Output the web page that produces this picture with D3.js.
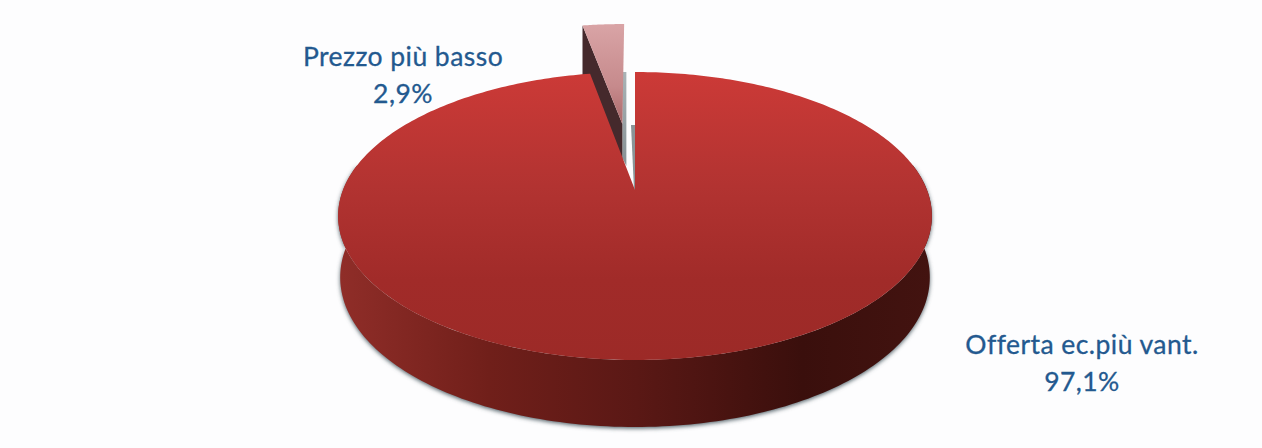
<!DOCTYPE html>
<html>
<head>
<meta charset="utf-8">
<style>
  html, body { margin: 0; padding: 0; background: #fdfdfe; }
  svg { display: block; }
  text { font-family: Lato, "Open Sans", sans-serif; fill: #23598f; stroke: #23598f; stroke-width: 0.3px; text-anchor: middle; letter-spacing: 0.45px; }
</style>
<script src="https://cdn.jsdelivr.net/npm/d3@7/dist/d3.min.js"></script>
</head>
<body>
<svg id="chart" width="1262" height="448"></svg>
<script>
// Award criteria shares
const categories = ["Offerta ec.più vant.", "Prezzo più basso"];
const shares = [97.1, 2.9];
const shareLabels = ["97,1%", "2,9%"];

const width = 1262, height = 448;
const svg = d3.select("#chart").attr("viewBox", [0, 0, width, height]);

// Perspective camera for the disc: hub position, radii and foreshortening
const hubX = 635, hubY = 190, spanX = 292, spanY = 139.3, persp = 0.1806;
const explode = 0.52, rimInset = 0.993;
const TAU = Math.PI * 2;

// Project a point of the unit disc (u to the right, v away from the viewer)
function project(u, v) {
  const w = 1 + persp * v;
  return [hubX + spanX * u / w, hubY - spanY * v / w];
}
const onRim = a => [Math.sin(a), Math.cos(a)];
const rimPoint = a => project(...onRim(a));

// Wall thickness grows towards the viewer
function lowerPoint(a) {
  const [u, v] = onRim(a);
  const [x, y] = project(u, v);
  return [hubX + (x - hubX) * rimInset, y + 60 - 7 * v];
}

const sweep = (a0, a1, n = 180) => d3.range(n + 1).map(i => a0 + (a1 - a0) * i / n);
const closed = d3.line().curve(d3.curveLinearClosed);

const arcs = d3.pie().sort(null).value(d => d)(shares);
const main = arcs[0], wedge = arcs[1];

// Paint definitions
const defs = svg.append("defs");
function gradient(id, horizontal, stops, range) {
  const g = defs.append("linearGradient").attr("id", id).attr("gradientUnits", "userSpaceOnUse");
  if (horizontal) g.attr("x1", range[0]).attr("x2", range[1]).attr("y1", 0).attr("y2", 0);
  else g.attr("y1", range[0]).attr("y2", range[1]).attr("x1", 0).attr("x2", 0);
  stops.forEach(([o, c]) => g.append("stop").attr("offset", o).attr("stop-color", c));
}
gradient("faceFill", false, [[0, "#cc3a37"], [0.4, "#b23331"], [0.72, "#a12b29"], [1, "#9c2a27"]], [72, 360]);
gradient("wallFill", true, [[0, "#8f2d28"], [0.25, "#701f1a"], [0.5, "#5a1815"], [0.78, "#3a0f0c"], [1, "#431310"]], [342, 932]);
gradient("wedgeFill", false, [[0, "#d9a4a6"], [0.6, "#c68a8c"], [1, "#a86466"]], [24, 128]);
gradient("slitFill", false, [[0, "#a9b3b6"], [1, "#7d878b"]], [73, 190]);
defs.append("filter").attr("id", "soft").attr("x", "-5%").attr("y", "-5%").attr("width", "110%").attr("height", "110%")
  .append("feGaussianBlur").attr("stdDeviation", 2.2);

// Wall seen from the front of the disc, from one silhouette side to the other
const wallAngles = sweep(TAU * 0.22, TAU * 0.78);
const wallOutline = wallAngles.map(rimPoint).concat(wallAngles.slice().reverse().map(lowerPoint));

// Soft contact shadow around the wall
svg.append("path")
  .attr("d", closed(wallOutline))
  .attr("fill", "#54646a")
  .attr("transform", "translate(0,1.5)")
  .attr("filter", "url(#soft)");
svg.append("path").attr("d", closed(wallOutline)).attr("fill", "url(#wallFill)");

// Pulled-out wedge: its hub and rim are shifted along the wedge's mid angle
const midAngle = (wedge.startAngle + wedge.endAngle) / 2;
const du = Math.sin(midAngle) * explode, dv = Math.cos(midAngle) * explode;
const wedgeRim = sweep(wedge.startAngle, wedge.endAngle, 24).map(a => {
  const [u, v] = onRim(a);
  return project(u + du, v + dv);
});
const wedgeHub = project(du, dv);
const wedgeCorner = wedgeRim[0];
const mainHub = project(0, 0);
const mainStartTop = project(...onRim(main.startAngle));

// Narrow lit walls showing through the gap between wedge and disc
svg.append("path")
  .attr("d", closed([
    [wedgeHub[0], mainStartTop[1]],
    [wedgeHub[0] + 4, mainStartTop[1]],
    [wedgeHub[0] + 4, mainHub[1] - 24],
    [wedgeHub[0], mainHub[1] - 32]
  ]))
  .attr("fill", "url(#slitFill)");
svg.append("path")
  .attr("d", closed([
    [mainHub[0] - 4, mainHub[1] - 65],
    [mainHub[0] + 0.5, mainHub[1] - 65],
    [mainHub[0] + 0.5, mainHub[1]],
    [mainHub[0] - 1, mainHub[1]]
  ]))
  .attr("fill", "#8a9497");

// Dark cut face of the wedge, then its top face
svg.append("path")
  .attr("d", closed([
    wedgeCorner,
    wedgeHub,
    [wedgeHub[0], wedgeHub[1] + 62],
    [wedgeCorner[0], wedgeCorner[1] + 62]
  ]))
  .attr("fill", "#45292c");
svg.append("path")
  .attr("d", closed([wedgeHub, ...wedgeRim]))
  .attr("fill", "url(#wedgeFill)");

// Top face of the main slice
const faceOutline = [mainHub, ...sweep(main.startAngle, main.endAngle, 360).map(rimPoint)];
svg.append("path").attr("d", closed(faceOutline)).attr("fill", "url(#faceFill)");

// Category and share labels
const labelAnchors = [[1082, 354], [403, 65.5]];
const lineGap = 37;
categories.forEach((name, i) => {
  const [x, y] = labelAnchors[i];
  const t = svg.append("text").attr("x", x).attr("y", y).attr("font-size", 26.5);
  t.append("tspan").attr("x", x).text(name);
  t.append("tspan").attr("x", x).attr("dy", lineGap).text(shareLabels[i]);
});
</script>
</body>
</html>
